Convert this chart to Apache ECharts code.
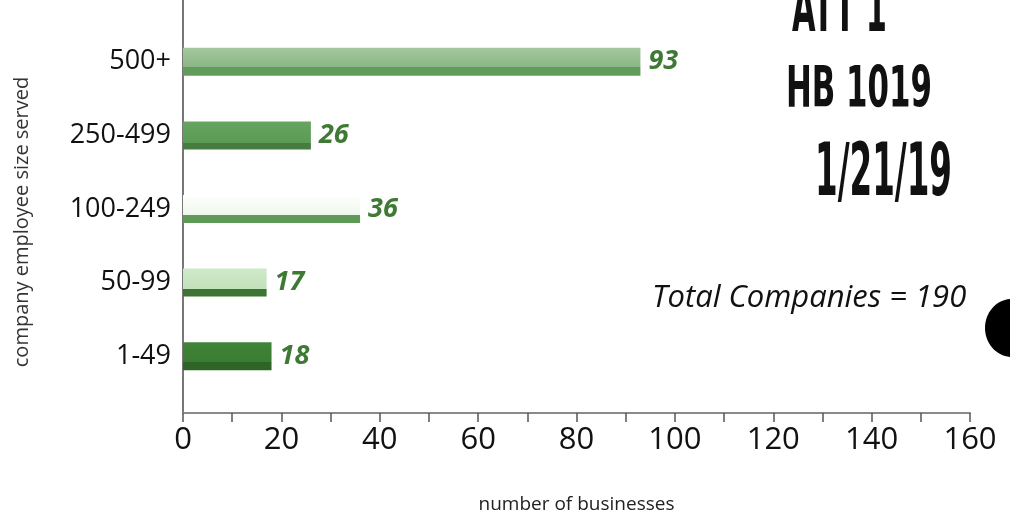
<!DOCTYPE html>
<html><head><meta charset="utf-8">
<script src="https://cdn.jsdelivr.net/npm/echarts@6/dist/echarts.min.js"></script>
<style>html,body{margin:0;padding:0;background:#fff}#c{width:1010px;height:514px}</style>
</head><body><div id="c"></div>
<script>
const categories = ['1-49', '50-99', '100-249', '250-499', '500+'];
const businesses = [18, 17, 36, 26, 93];
const xTicks = [0, 20, 40, 60, 80, 100, 120, 140, 160];
const yTitle = 'company employee size served';
const totalText = 'Total Companies = 190';
const notes = ['ATT 1', 'HB 1019', '1/21/19'];

function grad(top1, top2, bottom, split) {
  return new echarts.graphic.LinearGradient(0, 0, 0, 1, [
    {offset: 0, color: top1}, {offset: split, color: top2},
    {offset: split + 0.001, color: bottom}, {offset: 1, color: bottom}
  ]);
}
const styles = [
  grad('#3f8437', '#3a7c33', '#2e6527', 0.72),
  grad('#cfe9c9', '#c2e2bb', '#3d7333', 0.72),
  grad('#ffffff', '#eef7eb', '#5d9a56', 0.7),
  grad('#65a55f', '#5b9a55', '#477c41', 0.78),
  grad('#a3c89e', '#8bb685', '#619c5a', 0.68)
];

const FONT = 'Open Sans';
const chart = echarts.init(document.getElementById('c'));
chart.setOption({
  animation: false,
  grid: {left: 183, right: 40, top: 25, bottom: 121, outerBoundsMode: 'none', containLabel: false},
  xAxis: {
    type: 'value', min: 0, max: 160, interval: 20, offset: 20,
    axisLine: {show: true, lineStyle: {color: '#8a8a8a', width: 2}},
    axisTick: {show: true, length: 9, lineStyle: {color: '#555', width: 1.5}},
    minorTick: {show: true, splitNumber: 2, length: 9, lineStyle: {color: '#555', width: 1.5}},
    splitLine: {show: false},
    axisLabel: {color: '#111', fontSize: 31, fontFamily: FONT, margin: 12,
      formatter: v => xTicks.includes(v) ? String(v) : ''},
    name: 'number of businesses', nameLocation: 'middle', nameGap: 82,
    nameTextStyle: {color: '#222', fontSize: 19, fontFamily: FONT}
  },
  yAxis: {
    type: 'category', data: categories,
    axisLine: {show: false}, axisTick: {show: false},
    axisLabel: {color: '#111', fontSize: 27, fontFamily: FONT, margin: 12}
  },
  series: [{
    type: 'bar', barWidth: 28,
    data: businesses.map((v, i) => ({value: v, itemStyle: {color: styles[i]}})),
    label: {show: true, position: 'right', distance: 8, color: '#3f7a35',
      fontSize: 27, fontWeight: 'bold', fontStyle: 'italic', fontFamily: FONT}
  }],
  graphic: [
    {type: 'line', shape: {x1: 183, y1: 0, x2: 183, y2: 413}, style: {stroke: '#777', lineWidth: 2}},
    {type: 'text', x: 22, y: 222, rotation: Math.PI / 2, style: {text: yTitle, fontSize: 20, fontFamily: FONT, fill: '#333', align: 'center', verticalAlign: 'middle'}},
    {type: 'text', x: 652, y: 283, style: {text: totalText, fontSize: 31, fontStyle: 'italic', fontFamily: FONT, fill: '#111'}},
    {type: 'text', x: 792, y: -20, scaleX: 0.65, scaleY: 1.3, style: {text: notes[0], fontSize: 52, fontWeight: 'bold', fontFamily: 'DejaVu Sans Condensed', fill: '#111'}},
    {type: 'text', x: 786, y: 64, scaleX: 0.66, scaleY: 1.1, style: {text: notes[1], fontSize: 52, fontWeight: 'bold', fontFamily: 'DejaVu Sans Condensed', fill: '#111'}},
    {type: 'text', x: 815, y: 140, scaleX: 0.67, scaleY: 1.35, style: {text: notes[2], fontSize: 54, fontWeight: 'bold', fontFamily: 'DejaVu Sans Condensed', fill: '#111'}},
    {type: 'ellipse', shape: {cx: 1012, cy: 328, rx: 27, ry: 29}, style: {fill: '#000'}}
  ]
});
</script></body></html>
